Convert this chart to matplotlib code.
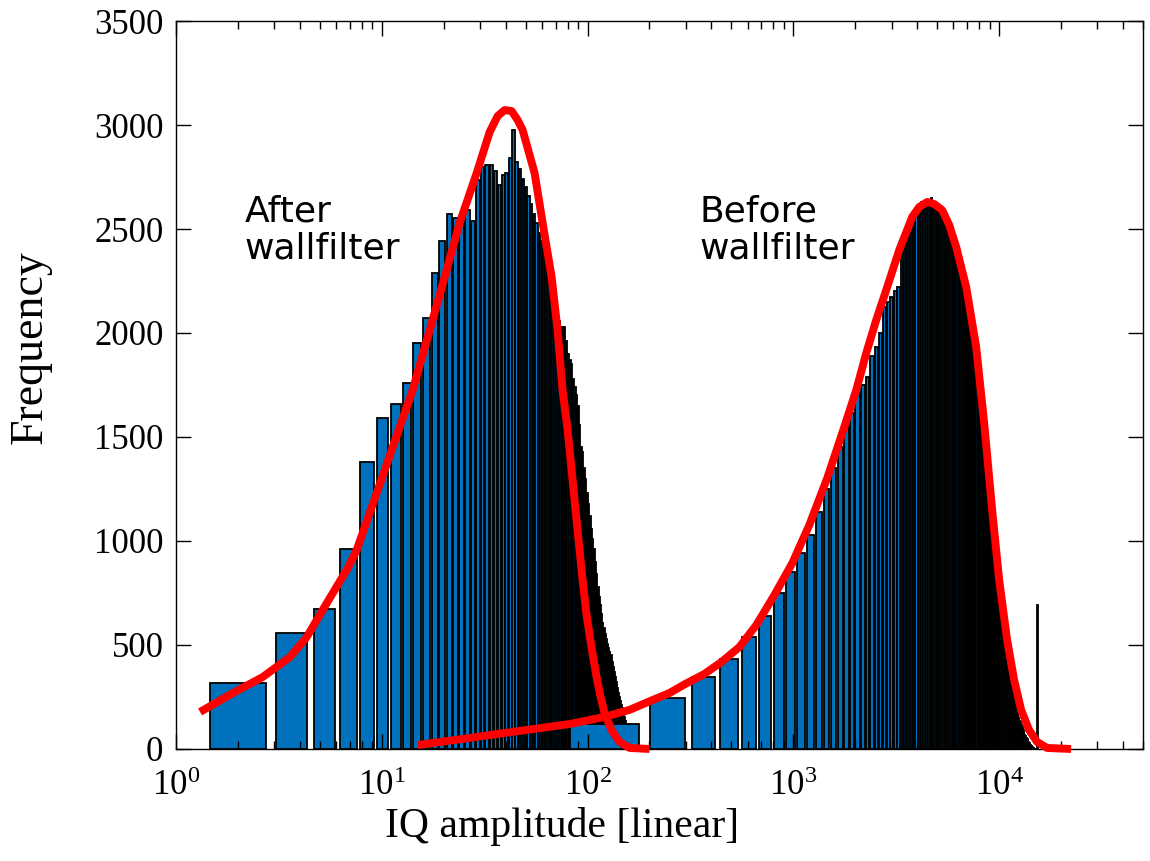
import numpy as np
import matplotlib
matplotlib.use("Agg")
from matplotlib import pyplot as plt

plt.rcParams['font.family'] = ['Liberation Serif', 'DejaVu Serif']
plt.rcParams['mathtext.fontset'] = 'custom'
plt.rcParams['mathtext.rm'] = 'Liberation Serif'

# Histogram after wallfilter: linear bins, first centre 2.1, step 1.6
after_start = 2.1
after_step = 1.6
after_counts = [317, 558, 673, 960, 1380, 1590, 1660, 1760, 1950, 2070,
                2290, 2440, 2570, 2555, 2560, 2590, 2540, 2735, 2800, 2810,
                2810, 2780, 2710, 2760, 2770, 2840, 2975, 2820, 2790, 2740,
                2700, 2660, 2620, 2570, 2530, 2480, 2440, 2400, 2350, 2310,
                2300, 2290, 2200, 2100, 2060, 2030, 2030, 2030, 1960, 1900,
                1870, 1850, 1780, 1740, 1700, 1650, 1560, 1450, 1430, 1350,
                1300, 1230, 1180, 1120, 1060, 1010, 960, 900, 840, 780,
                730, 690, 650, 610, 580, 555, 530, 505, 485, 470,
                450, 420, 395, 370, 345, 320, 295, 270, 250, 230,
                210, 195, 175, 155, 135, 120, 100, 80]

# Histogram before wallfilter: first centre 130, step 120
before_start = 130
before_step = 120
before_counts = [120, 245, 346, 433, 540, 640, 750, 850, 940, 1030,
                 1140, 1250, 1350, 1450, 1560, 1615, 1711, 1750, 1790, 1890,
                 1933, 2000, 2125, 2150, 2173, 2200, 2221, 2413, 2450, 2480,
                 2495, 2540, 2591, 2600, 2630, 2620, 2640, 2610, 2650, 2600,
                 2620, 2590, 2580, 2570, 2550, 2530, 2510, 2470, 2450, 2420,
                 2400, 2360, 2320, 2300, 2260, 2230, 2200, 2170, 2130, 2080,
                 2040, 1990, 1950, 1910, 1850, 1790, 1730, 1660, 1600, 1540,
                 1480, 1420, 1360, 1290, 1230, 1170, 1120, 1060, 1010, 960,
                 880, 830, 785, 745, 705, 665, 625, 585, 545, 500,
                 460, 425, 395, 365, 335, 305, 280, 260, 240, 220,
                 200, 185, 170, 155, 140, 128, 116, 104, 93, 82,
                 72, 63, 55, 47, 40, 33, 27, 21, 16, 12,
                 8, 5, 3, 2, 1, 0, 0, 692]

# Fitted curves (red)
fit1_x = [1.31, 1.89, 2.64, 3.58, 4.32, 5.41, 6.76, 7.56, 8.84, 10.34,
          12.09, 14.14, 17.1, 20.22, 23.91, 28.93, 33.44, 36.57, 39.55, 42.77,
          45.74, 48.37, 55.3, 60.5, 66.9, 71.5, 75.6, 80.0, 84.6, 89.4,
          94.6, 98.9, 104.6, 110.6, 115.7, 120.9, 130.8, 143.0, 159.9, 200]
fit1_y = [178, 269, 346, 442, 538, 702, 861, 957, 1149, 1341,
          1534, 1726, 2014, 2269, 2529, 2769, 2966, 3043, 3072, 3067,
          3024, 2976, 2769, 2529, 2269, 2014, 1726, 1534, 1293, 1053,
          813, 644, 486, 346, 250, 173, 91, 34, 5, 0]

fit2_x = [14.96, 26.7, 46.8, 81.8, 120.9, 159.9, 202, 250, 299, 370,
          447, 547, 661, 809, 989, 1196, 1462, 1768, 2022, 2262,
          2529, 2828, 3270, 3782, 4090, 4472, 4836, 5288, 5719, 6184,
          6917, 7733, 8458, 9248, 10000, 10935, 11826, 12790, 13984, 15290,
          17100, 22370]
fit2_y = [19, 53, 87, 120, 154, 188, 231, 269, 313, 361,
          418, 490, 596, 740, 894, 1077, 1303, 1548, 1726, 1904,
          2063, 2207, 2399, 2558, 2606, 2630, 2620, 2591, 2519, 2414,
          2221, 1933, 1567, 1149, 813, 524, 332, 188, 91, 34,
          5, 0]

after_x = after_start + after_step * np.arange(len(after_counts))
before_x = before_start + before_step * np.arange(len(before_counts))

fig = plt.figure(figsize=(11.5, 8.61), dpi=100)
ax = fig.add_axes([0.153, 0.1301, 0.8409, 0.8455])

blue = '#0072BD'
ax.bar(after_x, after_counts, width=0.8 * after_step, color=blue,
       edgecolor='black', linewidth=1.3, zorder=1)
ax.bar(before_x, before_counts, width=0.8 * before_step, color=blue,
       edgecolor='black', linewidth=1.3, zorder=1.1)

ax.plot(fit1_x, fit1_y, color='red', linewidth=5.7, zorder=3, clip_on=False,
        solid_capstyle='butt', solid_joinstyle='round')
ax.plot(fit2_x, fit2_y, color='red', linewidth=5.7, zorder=3, clip_on=False,
        solid_capstyle='butt', solid_joinstyle='round')

ax.set_xscale('log')
ax.set_xlim(1, 5e4)
ax.set_ylim(0, 3500)
ax.set_yticks(np.arange(0, 3501, 500))
ax.set_axisbelow(False)

ax.tick_params(which='both', direction='in', top=True, right=True,
               labelsize=25, width=1)
ax.tick_params(which='major', length=11)
ax.tick_params(which='minor', length=6)
ax.tick_params(axis='y', pad=9)
ax.tick_params(axis='x', pad=15)
for s in ax.spines.values():
    s.set_linewidth(1.0)

ax.set_xlabel('IQ amplitude [linear]', fontsize=30)
ax.set_ylabel('Frequency', fontsize=33)
ax.xaxis.set_label_coords(0.399, -0.08)
ax.yaxis.set_label_coords(-0.128, 0.552)

ax.text(2.16, 2665, 'After\nwallfilter', fontsize=26, family='DejaVu Sans',
        ha='left', va='top', linespacing=1.1)
ax.text(350, 2665, 'Before\nwallfilter', fontsize=26, family='DejaVu Sans',
        ha='left', va='top', linespacing=1.1)

fig.savefig('out.png', dpi=100)
